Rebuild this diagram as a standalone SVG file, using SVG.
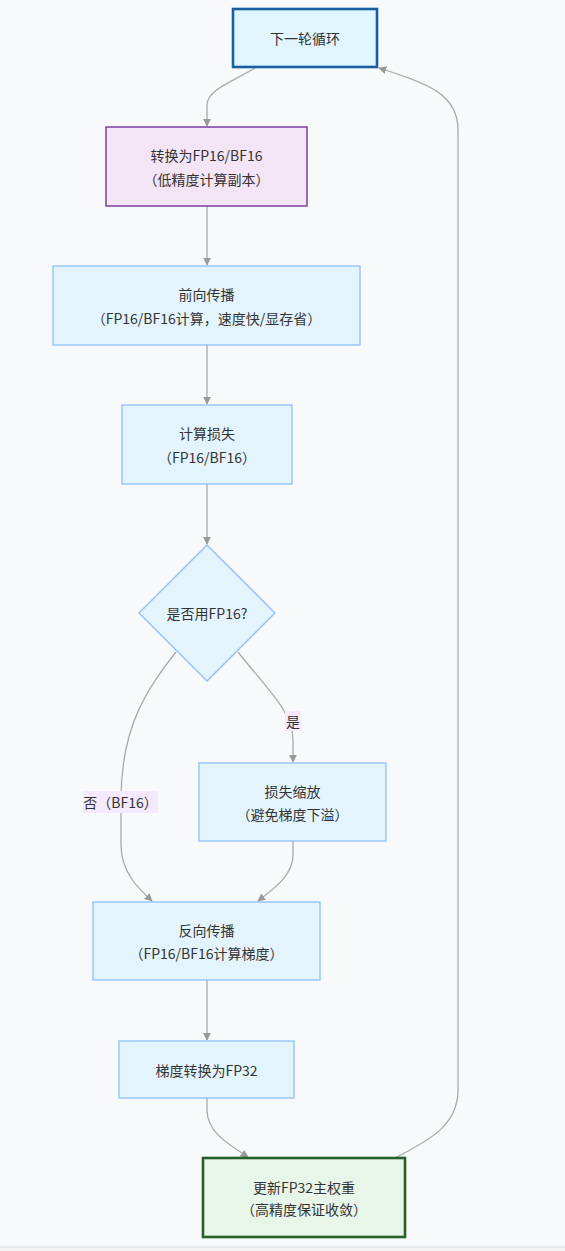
<svg xmlns="http://www.w3.org/2000/svg" width="565" height="1251" viewBox="0 0 565 1251">
<defs>
<style>
.t{font-family:"Noto Sans CJK SC","Noto Sans",sans-serif;font-size:14px;fill:#333;text-anchor:middle;dominant-baseline:central}
.n{fill:#e3f4fd;stroke:#90bff9;stroke-width:1.3}
.e{fill:none;stroke:#aaa;stroke-width:1.3}
.lb{fill:#f4eafc}
</style>
<marker id="arr" viewBox="0 0 10 10" refX="9" refY="5" markerWidth="8" markerHeight="8" orient="auto" markerUnits="userSpaceOnUse">
<path d="M0,0 L10,5 L0,10 z" fill="#999"/>
</marker>
</defs>
<rect x="0" y="0" width="565" height="1251" fill="#f8f9fb"/>
<rect x="0" y="1247" width="565" height="4" fill="#f3f3f3"/>
<line x1="0" y1="1247" x2="565" y2="1247" stroke="#dcdcdc" stroke-width="1"/>

<g id="edges">
<path class="e" marker-end="url(#arr)" d="M255,68 C232,82 207,90 207,105 L207,126"/>
<path class="e" marker-end="url(#arr)" d="M207,206 L207,265"/>
<path class="e" marker-end="url(#arr)" d="M207,345 L207,404"/>
<path class="e" marker-end="url(#arr)" d="M207,484 L207,544"/>
<path class="e" marker-end="url(#arr)" d="M238,652 C268,690 293,712 293,740 L293,762"/>
<path class="e" marker-end="url(#arr)" d="M176,652 C148,688 121,725 121,800 L121,845 C121,872 138,888 152,901"/>
<path class="e" marker-end="url(#arr)" d="M293,841 L293,855 C293,876 272,890 258,901"/>
<path class="e" marker-end="url(#arr)" d="M207,980 L207,1040"/>
<path class="e" marker-end="url(#arr)" d="M207,1098 L207,1110 C207,1132 228,1144 248,1157"/>
<path class="e" marker-end="url(#arr)" d="M395,1158 C430,1140 458,1125 458,1090 L458,130 C458,95 430,84 379,68"/>
<rect class="lb" x="285" y="711" width="16" height="20"/>
<text class="t" x="293" y="721">是</text>
<rect class="lb" x="83" y="791" width="75" height="22"/>
<text class="t" x="120.5" y="802">否（BF16）</text>
</g>

<g id="next">
<rect x="233" y="9" width="144" height="58" fill="#e1f5fe" stroke="#1a5f9f" stroke-width="2.6"/>
<text class="t" x="305" y="38">下一轮循环</text>
</g>
<g id="convert">
<rect x="106" y="127" width="201" height="79" fill="#f3e5f5" stroke="#7b3fa0" stroke-width="1.5"/>
<text class="t" x="206.5" y="155">转换为FP16/BF16</text>
<text class="t" x="206.5" y="179">（低精度计算副本）</text>
</g>
<g id="forward">
<rect class="n" x="53" y="266" width="307" height="79"/>
<text class="t" x="206.5" y="294">前向传播</text>
<text class="t" x="206.5" y="318">（FP16/BF16计算，速度快/显存省）</text>
</g>
<g id="loss">
<rect class="n" x="122" y="405" width="170" height="79"/>
<text class="t" x="207" y="433">计算损失</text>
<text class="t" x="207" y="457">（FP16/BF16）</text>
</g>
<g id="decision">
<polygon class="n" points="207,545 275,613 207,681 139,613"/>
<text class="t" x="207" y="613">是否用FP16?</text>
</g>
<g id="scale">
<rect class="n" x="199" y="763" width="187" height="78"/>
<text class="t" x="292.5" y="791">损失缩放</text>
<text class="t" x="292.5" y="814">（避免梯度下溢）</text>
</g>
<g id="backward">
<rect class="n" x="93" y="902" width="227" height="78"/>
<text class="t" x="206.5" y="930">反向传播</text>
<text class="t" x="206.5" y="953">（FP16/BF16计算梯度）</text>
</g>
<g id="gradconv">
<rect class="n" x="119" y="1041" width="175" height="57"/>
<text class="t" x="206.5" y="1070">梯度转换为FP32</text>
</g>
<g id="update">
<rect x="203" y="1158" width="202" height="79" fill="#e8f5e9" stroke="#256029" stroke-width="2.6"/>
<text class="t" x="304" y="1187">更新FP32主权重</text>
<text class="t" x="304" y="1209">（高精度保证收敛）</text>
</g>
</svg>
